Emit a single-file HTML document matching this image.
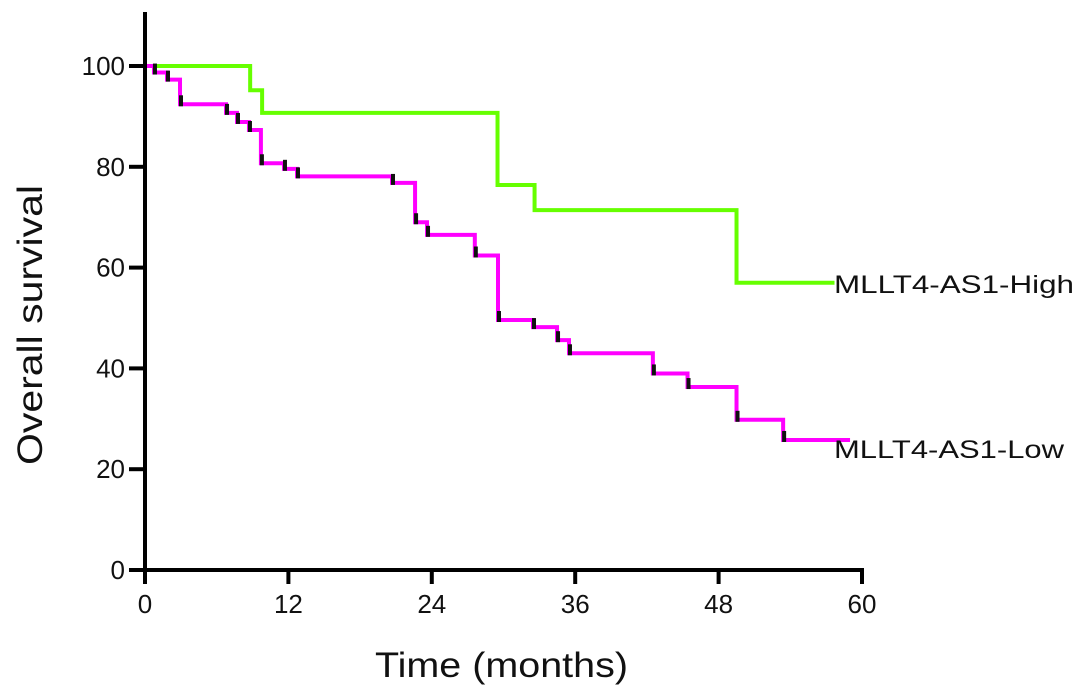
<!DOCTYPE html>
<html><head><meta charset="utf-8"><style>
body{margin:0;background:#fff}
svg{display:block;font-family:"Liberation Sans",Arial,sans-serif}
</style></head><body>
<svg id="chart" width="1087" height="699" viewBox="0 0 1087 699"></svg>
<script>
const yTicks=[0,20,40,60,80,100];
const xTicks=[0,12,24,36,48,60];
const lowTimes=[0,0.75,1.84,2.93,6.78,7.7,8.7,9.7,11.63,12.72,20.67,22.6,23.6,27.6,29.54,32.47,34.48,35.48,42.5,45.4,49.5,53.4,59];
const lowVals=[100,98.7,97.3,92.4,90.7,88.9,87.3,80.7,79.6,78.1,76.8,69,66.5,62.4,49.6,48.2,45.6,43,39,36.3,29.8,25.8,25.8];
const lowCensor=[0.75,1.84,2.93,6.78,7.7,8.7,9.7,11.63,12.72,20.67,22.6,23.6,27.6,29.54,32.47,34.48,35.48,42.5,45.4,49.5,53.4];
const highTimes=[0,8.8,9.8,29.5,32.6,49.5,57.7];
const highVals=[100,95.2,90.7,76.4,71.4,57,57];
const NS="http://www.w3.org/2000/svg";
const svg=document.getElementById('chart');
const X0=145,X1=862,Y0=570,Y1=66;
const sx=v=>X0+(X1-X0)*v/60;
const sy=v=>Y0-(Y0-Y1)*v/100;
function mk(t,a){const e=document.createElementNS(NS,t);for(const k in a)e.setAttribute(k,a[k]);svg.appendChild(e);return e;}
function step(ts,vs){let d='M'+sx(ts[0])+','+sy(vs[0]);for(let i=1;i<ts.length;i++){d+=' H'+sx(ts[i])+' V'+sy(vs[i]);}return d;}
let p=mk('path',{d:step(highTimes,highVals),fill:'none',stroke:'#66ff00','stroke-width':4});


p=mk('path',{d:step(lowTimes,lowVals),fill:'none',stroke:'#ff00ff','stroke-width':4});


lowCensor.forEach(t=>{let v=lowVals[0];for(let i=0;i<lowTimes.length;i++){if(lowTimes[i]<=t)v=lowVals[i];}
const c=mk('line',{x1:sx(t)+1,x2:sx(t)+1,y1:sy(v)+2,y2:sy(v)-9,stroke:'#111','stroke-width':4});

});
let a=mk('line',{x1:X0,y1:12,x2:X0,y2:Y0+2,stroke:'#000','stroke-width':4});


a=mk('line',{x1:X0-2,y1:Y0,x2:X1+2,y2:Y0,stroke:'#000','stroke-width':4});


yTicks.forEach(v=>{const l=mk('line',{x1:X0-16,x2:X0,y1:sy(v),y2:sy(v),stroke:'#000','stroke-width':4});


const t=mk('text',{x:X0-20,y:sy(v)+9,'text-anchor':'end','font-size':26,fill:'#111'});t.textContent=v;

});
xTicks.forEach(v=>{const l=mk('line',{x1:sx(v),x2:sx(v),y1:Y0,y2:Y0+14,stroke:'#000','stroke-width':4});


const t=mk('text',{x:sx(v),y:Y0+43,'text-anchor':'middle','font-size':26,fill:'#111'});t.textContent=v;

});
let t=mk('text',{x:375,y:677,'font-size':35,fill:'#111',textLength:253,lengthAdjust:'spacingAndGlyphs'});t.textContent='Time (months)';


t=mk('text',{x:0,y:0,'font-size':35,fill:'#111',textLength:280,lengthAdjust:'spacingAndGlyphs',transform:'translate(42,465) rotate(-90)'});t.textContent='Overall survival';


t=mk('text',{x:834,y:293,'font-size':25,fill:'#111',textLength:240,lengthAdjust:'spacingAndGlyphs'});t.textContent='MLLT4-AS1-High';


t=mk('text',{x:834,y:458,'font-size':25,fill:'#111',textLength:230,lengthAdjust:'spacingAndGlyphs'});t.textContent='MLLT4-AS1-Low';


</script>
</body></html>
